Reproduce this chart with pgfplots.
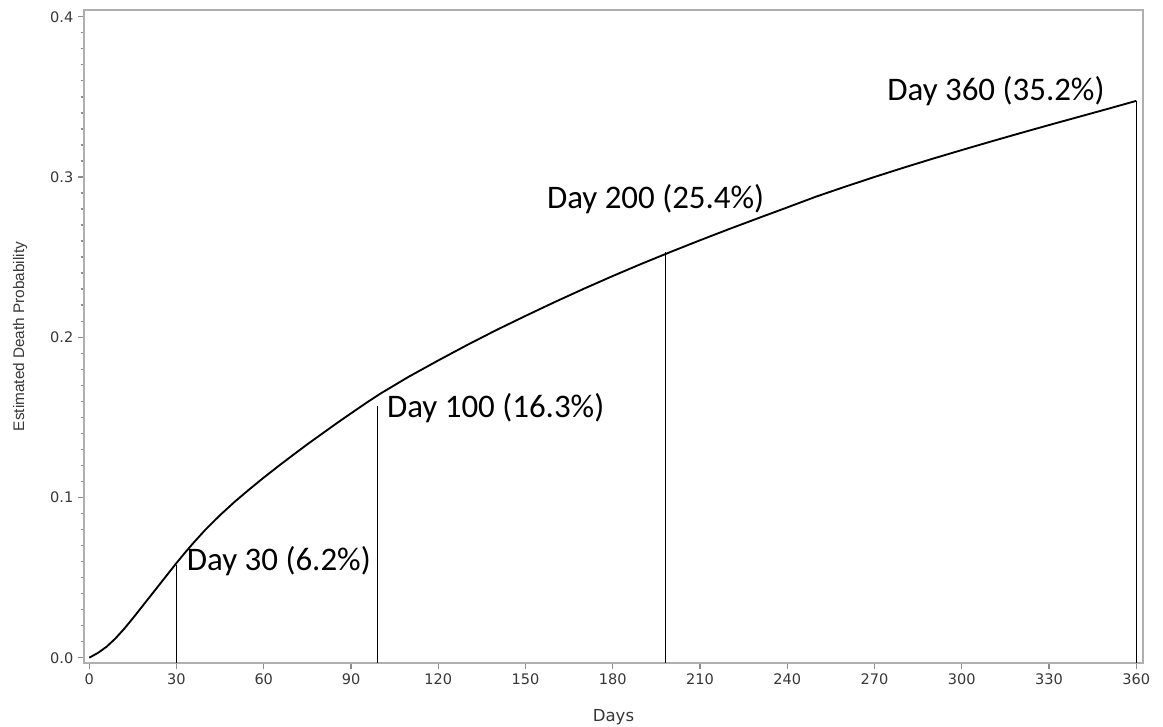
\documentclass[border=0pt]{standalone}
\usepackage{fontspec}
\usepackage{pgfplots}
\pgfplotsset{compat=1.18}
\setmainfont{DejaVu Sans}
\newfontfamily\tickfont{DejaVu Sans}
\newfontfamily\ylabfont{Liberation Sans}
\newfontfamily\annfont{Carlito}
\definecolor{axisgray}{RGB}{175,175,175}
\definecolor{ticktext}{RGB}{55,55,55}
\begin{document}
\begin{tikzpicture}
\useasboundingbox (-63pt,-48pt) rectangle (809.25pt,497.25pt);
\begin{axis}[
  at={(0,0)}, anchor=south west,
  scale only axis,
  width=794.25pt, height=489.75pt,
  xmin=-1.8, xmax=362.3,
  ymin=-0.0033, ymax=0.4042,
  xtick={0,30,...,360},
  ytick={0,0.1,0.2,0.3,0.4},
  minor y tick num=9,
  yticklabel style={/pgf/number format/.cd,fixed,fixed zerofill,precision=1},
  /pgf/number format/assume math mode=true,
  tick label style={font=\tickfont\fontsize{10.9}{12}\selectfont, text=ticktext},
  axis line style={draw=axisgray, line width=1.2pt},
  every tick/.style={draw=axisgray!80!black, line width=1pt},
  tick align=outside,
  xtick pos=bottom, ytick pos=left,
  major tick length=4.5pt,
  minor tick length=2.6pt,
  xlabel={Days},
  ylabel={\ylabfont Estimated Death Probability},
  xlabel style={at={(axis description cs:0.5,-0.0827)}, anchor=center, font=\fontsize{12.4}{14}\selectfont, text=ticktext},
  ylabel style={at={(axis description cs:-0.0604,0.5)}, anchor=center, rotate=0, font=\fontsize{11.5}{13}\selectfont, text=ticktext},
  clip=false,
  axis background/.style={fill=white},
]
\addplot[black, line width=1.4pt] coordinates {
(0,0) (3,0.003) (6,0.0069) (9,0.012) (12,0.018) (15,0.0246) (18,0.0315)
(21,0.0384) (24,0.0453) (27,0.0522) (30,0.0591) (33,0.0657) (36,0.0720)
(40,0.0800) (45,0.0890) (50,0.0973) (55,0.1050) (60,0.1124) (65,0.1195)
(70,0.1264) (75,0.1332) (80,0.1397) (85,0.1462) (90,0.1525) (95,0.1587)
(100,0.1647) (110,0.1755) (120,0.1855) (130,0.1952) (140,0.2045) (150,0.2133)
(160,0.2219) (170,0.2302) (180,0.2382) (190,0.2459) (200,0.2533) (210,0.2605)
(220,0.2675) (230,0.2743) (240,0.2810) (250,0.2878) (260,0.2940) (270,0.3000)
(280,0.3058) (290,0.3114) (300,0.3168) (310,0.3221) (320,0.3273) (330,0.3324)
(340,0.3374) (350,0.3424) (360,0.3475)
};
\addplot[black, line width=0.95pt] coordinates {(30,-0.0033) (30,0.058)};
\addplot[black, line width=0.95pt] coordinates {(99,-0.0033) (99,0.157)};
\addplot[black, line width=0.95pt] coordinates {(198,-0.0033) (198,0.253)};
\addplot[black, line width=0.95pt] coordinates {(360,-0.0033) (360,0.3475)};
\node[anchor=base west, inner sep=0pt, font=\annfont\fontsize{24.7}{28}\selectfont] at (axis cs:33.5,0.0547) {Day 30 (6.2\%)};
\node[anchor=base west, inner sep=0pt, font=\annfont\fontsize{24.7}{28}\selectfont] at (axis cs:102.3,0.1496) {Day 100 (16.3\%)};
\node[anchor=base west, inner sep=0pt, font=\annfont\fontsize{24.7}{28}\selectfont] at (axis cs:157.3,0.2806) {Day 200 (25.4\%)};
\node[anchor=base west, inner sep=0pt, font=\annfont\fontsize{24.7}{28}\selectfont] at (axis cs:274.3,0.348) {Day 360 (35.2\%)};
\end{axis}
\end{tikzpicture}
\end{document}
